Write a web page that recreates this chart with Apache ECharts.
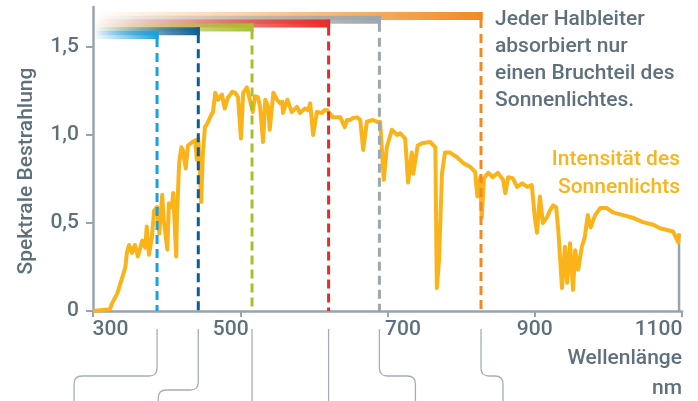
<!DOCTYPE html>
<html lang="de">
<head>
<meta charset="UTF-8">
<title>Sonnenspektrum</title>
<script src="https://cdn.jsdelivr.net/npm/echarts@6/dist/echarts.min.js"></script>
<style>
  html, body { margin: 0; padding: 0; background: #fff; }
  #chart { width: 698px; height: 401px; }
</style>
</head>
<body>
<div id="chart"></div>
<script>
// Wellenlaenge (nm) und spektrale Bestrahlung
var wavelengths = [
  300, 323, 326, 333, 339, 344, 346, 349, 353, 357,
  361, 367, 371, 373, 376, 380, 383, 387, 390, 394,
  396, 401, 403, 407, 409, 413, 414, 417, 420, 422,
  426, 429, 435, 439, 441, 443, 447, 449, 452, 456,
  460, 463, 466, 470, 475, 479, 483, 489, 493, 497,
  501, 504, 509, 513, 517, 520, 524, 527, 531, 534,
  538, 540, 545, 550, 554, 557, 558, 564, 570, 577,
  581, 588, 592, 595, 599, 604, 611, 615, 618, 626,
  636, 642, 645, 649, 653, 659, 663, 667, 672, 680,
  686, 690, 695, 699, 706, 713, 717, 724, 728, 733,
  735, 741, 748, 758, 765, 767, 770, 774, 778, 785,
  794, 803, 812, 819, 822, 826, 828, 831, 837, 843,
  850, 857, 860, 864, 870, 876, 883, 890, 896, 900,
  903, 907, 911, 917, 921, 925, 929, 932, 937, 941,
  944, 948, 952, 955, 959, 964, 968, 972, 976, 982,
  989, 998, 1006, 1020, 1033, 1047, 1061, 1070, 1080, 1088,
  1095, 1096
];
var irradiance = [
  0, 0.01, 0.045, 0.10, 0.18, 0.25, 0.33, 0.375, 0.33, 0.375,
  0.31, 0.40, 0.36, 0.48, 0.32, 0.42, 0.57, 0.59, 0.44, 0.66,
  0.52, 0.35, 0.61, 0.59, 0.67, 0.31, 0.53, 0.84, 0.93, 0.915,
  0.81, 0.94, 0.96, 0.97, 0.86, 0.98, 0.62, 0.875, 1.045, 1.07,
  1.11, 1.13, 1.24, 1.20, 1.23, 1.15, 1.21, 1.245, 1.24, 1.215,
  0.98, 1.24, 1.27, 1.20, 1.13, 1.22, 1.215, 1.16, 0.96, 1.20,
  1.16, 1.03, 1.24, 1.20, 1.18, 1.19, 1.125, 1.20, 1.13, 1.16,
  1.125, 1.15, 1.14, 1.18, 1.0, 1.13, 1.125, 1.142, 1.14, 1.10,
  1.10, 1.045, 1.085, 1.085, 1.097, 1.10, 1.085, 0.915, 1.075, 1.085,
  1.074, 1.075, 0.745, 0.93, 1.03, 1.0, 1.01, 0.98, 0.73, 0.90,
  0.78, 0.94, 0.955, 0.96, 0.93, 0.13, 0.29, 0.78, 0.90, 0.90,
  0.875, 0.84, 0.82, 0.79, 0.65, 0.76, 0.53, 0.755, 0.785, 0.76,
  0.785, 0.745, 0.67, 0.76, 0.755, 0.705, 0.725, 0.705, 0.715, 0.535,
  0.445, 0.65, 0.50, 0.535, 0.575, 0.60, 0.59, 0.46, 0.13, 0.365,
  0.16, 0.385, 0.12, 0.345, 0.235, 0.365, 0.42, 0.545, 0.475, 0.545,
  0.585, 0.585, 0.56, 0.545, 0.53, 0.505, 0.49, 0.47, 0.46, 0.45,
  0.39, 0.44
];
// Absorptionskanten der Halbleiter (nm)
var gapEdges = [387, 443, 516, 620, 689, 827];
var xTicks = [300, 500, 700, 900, 1100];
var yTicks = [0, 0.5, 1, 1.5];

var gapColors = ['#16a2e0', '#0b5c98', '#a9c02e', '#ec2a25', '#9ca7ae', '#f28a22'];
var curveColor = '#fab41a';
var textColor = '#5e707b';
var axisColor = '#98a4ab';
var font = 'Roboto';
var weight = 500;

var curve = wavelengths.map(function (w, i) { return [w, irradiance[i]]; });
var last = curve[curve.length - 1];

// Versatz der Verbindungslinien unter der Achse
var bracketShift = [-83, -40, 0, 0, 36, 22];
var bracketBend = [65, 79, 0, 0, 65, 65];

function renderGap(params, api) {
  var i = params.dataIndex;
  var color = gapColors[i];
  var cs = params.coordSys;
  var x0 = api.coord([300, 0])[0];
  var p = api.coord([api.value(0), 0]);
  var x = p[0], yAxis = p[1];
  var top = cs.y + 5 + (gapColors.length - 1 - i) * 3.8;
  var h = 8;
  var children = [
    {
      type: 'rect',
      shape: { x: x0, y: top, width: x - x0 + 1.5, height: h },
      style: {
        fill: new echarts.graphic.LinearGradient(0, 0, 1, 0, [
          { offset: 0, color: echarts.color.modifyAlpha(color, 0) },
          { offset: 1, color: color }
        ])
      },
      z2: 20 - i
    },
    {
      type: 'line',
      shape: { x1: x, y1: top, x2: x, y2: top + h + 8 },
      style: { stroke: color, lineWidth: 3 },
      z2: 20 - i
    },
    {
      type: 'line',
      shape: { x1: x, y1: top + h + 14, x2: x, y2: yAxis },
      style: { stroke: color, lineWidth: 3, lineDash: [9, 5] },
      z2: 5
    }
  ];
  // Linie unter der Achse
  var yStart = yAxis + 18, yEnd = 402;
  var s = bracketShift[i];
  var d;
  if (s === 0) {
    d = 'M' + x + ' ' + yStart + ' L' + x + ' ' + yEnd;
  } else {
    var hy = yAxis + bracketBend[i], r = 8, sg = s < 0 ? -1 : 1;
    d = 'M' + x + ' ' + yStart +
      ' L' + x + ' ' + (hy - r) +
      ' Q' + x + ' ' + hy + ' ' + (x + sg * r) + ' ' + hy +
      ' L' + (x + s - sg * r) + ' ' + hy +
      ' Q' + (x + s) + ' ' + hy + ' ' + (x + s) + ' ' + (hy + r) +
      ' L' + (x + s) + ' ' + yEnd;
  }
  children.push({
    type: 'path',
    shape: { pathData: d },
    style: { stroke: '#a5afb5', lineWidth: 1.3, fill: null }
  });
  return { type: 'group', children: children };
}

function rich(pad) {
  return { fontFamily: font, fontSize: 21, fontWeight: weight, color: textColor, padding: pad };
}

var chart = echarts.init(document.getElementById('chart'));
chart.setOption({
  animation: false,
  grid: { left: 93, right: 16, top: 7, bottom: 90 },
  xAxis: {
    type: 'value',
    min: 300,
    max: 1100,
    interval: 200,
    axisLine: { lineStyle: { color: axisColor, width: 2.5 } },
    axisTick: { show: true, length: 6, lineStyle: { color: axisColor, width: 2 } },
    splitLine: { show: false },
    axisLabel: {
      margin: 8,
      formatter: function (v) { return '{t' + v + '|' + v + '}'; },
      rich: {
        t300: rich([0, 0, 0, 35]),
        t500: rich([0, 19, 0, 0]),
        t700: rich([0, 0, 0, 31]),
        t900: rich([0, 0, 0, 0]),
        t1100: rich([0, 47, 0, 0])
      }
    }
  },
  yAxis: {
    type: 'value',
    min: 0,
    max: 1.727,
    name: 'Spektrale Bestrahlung',
    nameLocation: 'middle',
    nameGap: 56,
    nameTextStyle: { fontFamily: font, fontSize: 21, fontWeight: weight, color: textColor, padding: [0, 24, 0, 0] },
    axisLine: { show: true, lineStyle: { color: axisColor, width: 2.5 } },
    axisTick: { show: true, length: 7, customValues: yTicks, lineStyle: { color: axisColor, width: 2 } },
    splitLine: { show: false },
    axisLabel: {
      margin: 14,
      customValues: yTicks,
      fontFamily: font,
      fontSize: 21,
      fontWeight: weight,
      color: textColor,
      formatter: function (v) { return v === 0 ? '0' : v.toFixed(1).replace('.', ','); }
    }
  },
  series: [
    {
      type: 'line',
      data: curve,
      showSymbol: false,
      z: 2,
      lineStyle: { color: curveColor, width: 4, join: 'round' }
    },
    {
      type: 'line',
      data: [[last[0], 0], [last[0], last[1]]],
      showSymbol: false,
      z: 1,
      lineStyle: { color: axisColor, width: 2.5 }
    },
    {
      type: 'custom',
      clip: false,
      z: 3,
      renderItem: renderGap,
      data: gapEdges.map(function (g) { return [g]; })
    }
  ],
  graphic: [
    {
      type: 'text', x: 495, y: 6,
      style: {
        text: 'Jeder Halbleiter\nabsorbiert nur\neinen Bruchteil des\nSonnenlichtes.',
        fontFamily: font, fontSize: 21, fontWeight: weight, lineHeight: 27, fill: textColor
      }
    },
    {
      type: 'text', x: 680, y: 146,
      style: {
        text: 'Intensität des\nSonnenlichts', align: 'right',
        fontFamily: font, fontSize: 21, fontWeight: weight, lineHeight: 28, fill: curveColor
      }
    },
    {
      type: 'text', x: 682, y: 344,
      style: {
        text: 'Wellenlänge\nnm', align: 'right',
        fontFamily: font, fontSize: 21, fontWeight: weight, lineHeight: 30, fill: textColor
      }
    }
  ]
});
</script>
</body>
</html>
